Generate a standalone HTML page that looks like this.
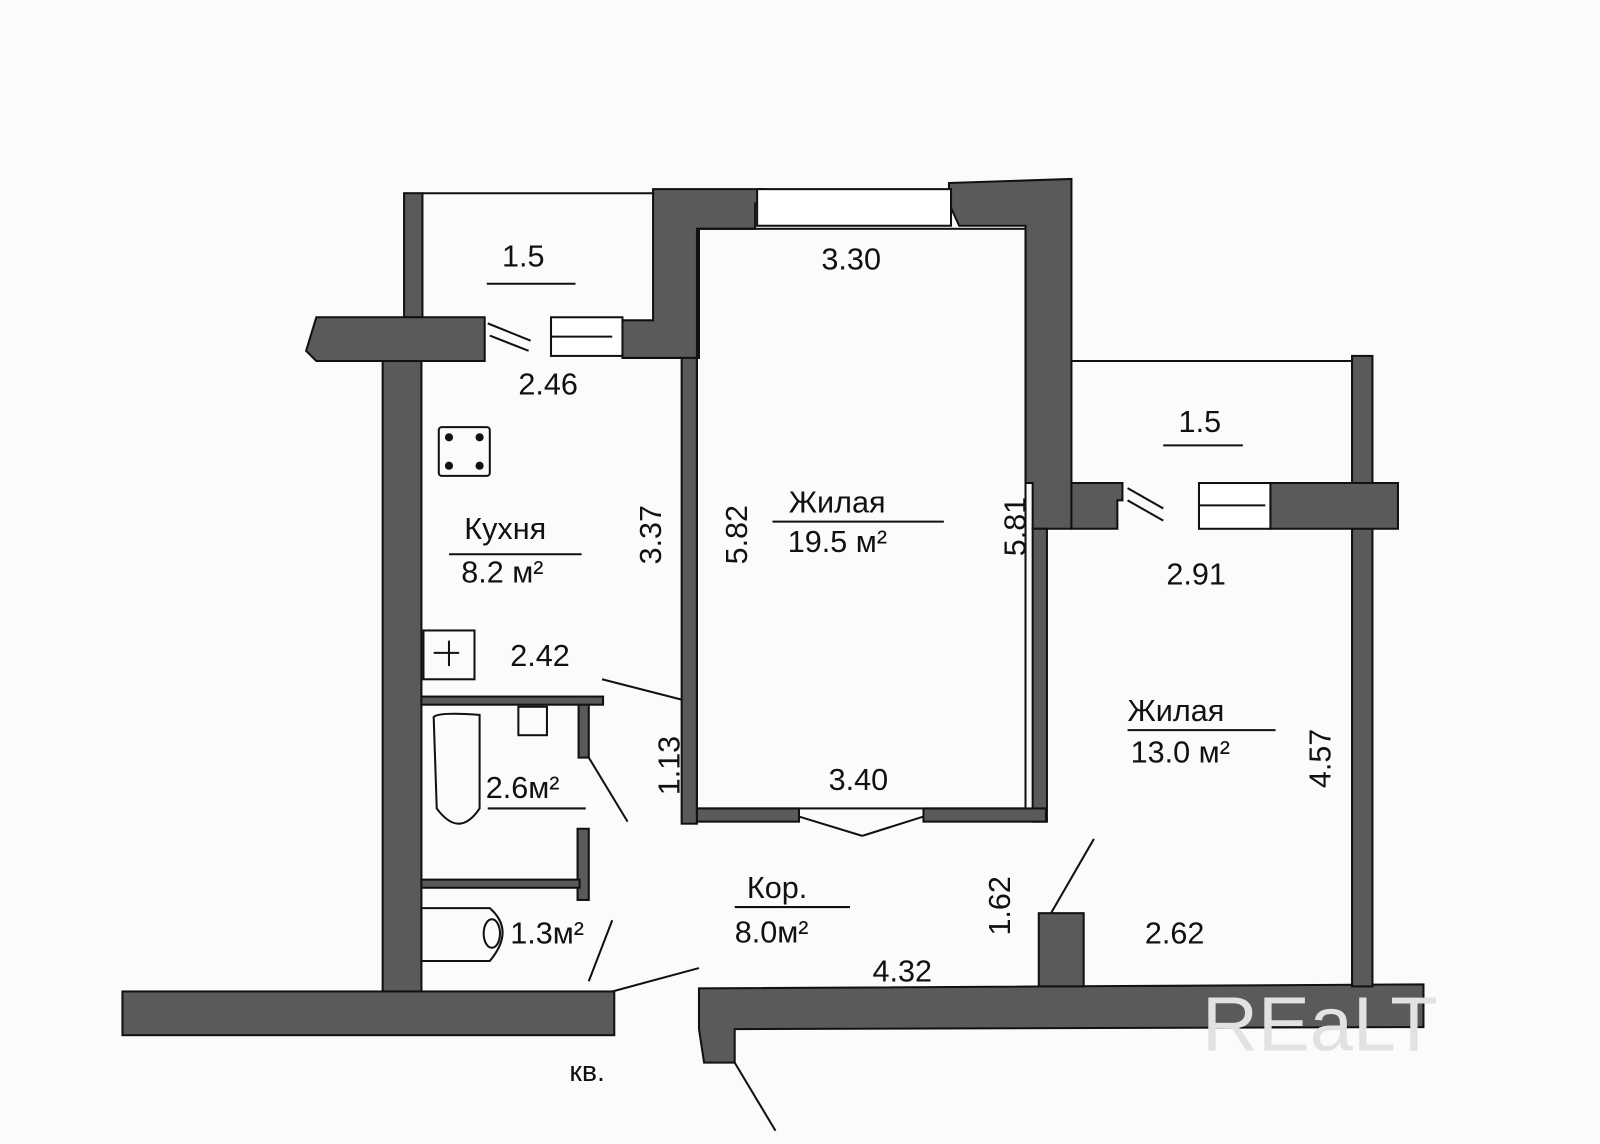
<!DOCTYPE html>
<html><head><meta charset="utf-8"><style>
html,body{margin:0;padding:0;background:#fbfbfb;}
svg{display:block;}
text{font-family:"Liberation Sans",sans-serif;fill:#111;}
</style></head><body>
<svg width="1600" height="1144" viewBox="0 0 1568 1125" preserveAspectRatio="none" xmlns="http://www.w3.org/2000/svg">
<rect width="1568" height="1125" fill="#fbfbfb"/>
<g fill="#5a5a5a" stroke="#111" stroke-width="2">
<rect x="396" y="190" width="18" height="122"/>
<polygon points="640,186 750,186 750,200 740,200 740,225 685,225 685,352 610,352 610,315 640,315"/>
<polygon points="930,180 1050,176 1050,520 1012,520 1012,475 1005,475 1005,222 940,222 930,200"/>
<polygon points="1050,475 1100,475 1100,492 1095,492 1095,520 1050,520"/>
<polygon points="310,312 475,312 475,355 310,355 300,345"/>
<rect x="375" y="355" width="38" height="620"/>
<rect x="120" y="975" width="482" height="43"/>
<polygon points="685,972 1395,968 1395,1010 720,1012 720,1045 690,1045 685,1012"/>
<rect x="1325" y="350" width="20" height="620"/>
<polygon points="1245,475 1370,475 1370,520 1245,520"/>
<rect x="1018" y="898" width="44" height="72"/>
<rect x="413" y="685" width="178" height="8"/>
<rect x="567" y="693" width="10" height="52"/>
<rect x="566" y="815" width="11" height="70"/>
<rect x="413" y="865" width="155" height="8"/>
<rect x="668" y="352" width="15" height="458"/>
<rect x="1012" y="520" width="14" height="288"/>
<rect x="683" y="795" width="100" height="13"/>
<rect x="905" y="795" width="120" height="13"/>
</g>
<g fill="none" stroke="#111" stroke-width="2">
<line x1="414" y1="190" x2="640" y2="190"/>
<rect x="742" y="186" width="190" height="36" fill="#fff"/>
<line x1="1050" y1="355" x2="1325" y2="355"/>
<rect x="683" y="225" width="322" height="570"/>
<rect x="540" y="312" width="70" height="38" fill="#fff"/>
<line x1="540" y1="331" x2="600" y2="331"/>
<rect x="1175" y="475" width="70" height="45" fill="#fff"/>
<line x1="1175" y1="497" x2="1240" y2="497"/>
<line x1="478" y1="318" x2="520" y2="335"/>
<line x1="480" y1="330" x2="518" y2="345"/>
<line x1="1105" y1="480" x2="1140" y2="500"/>
<line x1="1105" y1="492" x2="1140" y2="512"/>
<line x1="783" y1="803" x2="845" y2="822"/>
<line x1="905" y1="803" x2="845" y2="822"/>
<line x1="577" y1="745" x2="615" y2="808"/>
<line x1="1030" y1="898" x2="1072" y2="825"/>
<line x1="720" y1="1045" x2="760" y2="1112"/>
<line x1="590" y1="668" x2="668" y2="688"/>
<line x1="577" y1="965" x2="600" y2="905"/>
<line x1="600" y1="975" x2="685" y2="952"/>
<line x1="1140" y1="438" x2="1218" y2="438"/>
<line x1="477" y1="279" x2="564" y2="279"/>
<line x1="440" y1="545" x2="570" y2="545"/>
<line x1="757" y1="513" x2="925" y2="513"/>
<line x1="1105" y1="718" x2="1250" y2="718"/>
<line x1="720" y1="892" x2="833" y2="892"/>
<line x1="478" y1="795" x2="574" y2="795"/>
<rect x="430" y="420" width="50" height="48" rx="3"/>
<rect x="415" y="620" width="50" height="48"/>
<line x1="440" y1="630" x2="440" y2="655"/><line x1="425" y1="642" x2="450" y2="642"/>
<path d="M425,705 Q430,700 470,703 L470,795 Q450,825 428,795 Z"/>
<rect x="508" y="695" width="28" height="28"/>
<path d="M413,893 L480,893 Q505,915 480,945 L413,945 Z"/>
<ellipse cx="482" cy="918" rx="8" ry="14"/>
</g>
<g fill="#111">
<circle cx="440" cy="430" r="4"/><circle cx="470" cy="430" r="4"/>
<circle cx="440" cy="458" r="4"/><circle cx="470" cy="458" r="4"/>
</g>
<g font-size="30">
<text x="492" y="262">1.5</text>
<text x="508" y="388">2.46</text>
<text x="805" y="265">3.30</text>
<text x="1155" y="425">1.5</text>
<text x="1143" y="575">2.91</text>
<text x="455" y="530">Кухня</text>
<text x="452" y="573">8.2 м²</text>
<text x="773" y="504">Жилая</text>
<text x="772" y="543">19.5 м²</text>
<text x="500" y="655">2.42</text>
<text x="476" y="785">2.6м²</text>
<text x="500" y="928">1.3м²</text>
<text x="812" y="777">3.40</text>
<text x="732" y="883">Кор.</text>
<text x="720" y="927">8.0м²</text>
<text x="855" y="965">4.32</text>
<text x="1105" y="709">Жилая</text>
<text x="1108" y="750">13.0 м²</text>
<text x="1122" y="928">2.62</text>
<text x="558" y="1063" font-size="28">кв.</text>
<text transform="translate(648,555) rotate(-90)">3.37</text>
<text transform="translate(732,555) rotate(-90)">5.82</text>
<text transform="translate(1005,547) rotate(-90)">5.81</text>
<text transform="translate(666,782) rotate(-90)">1.13</text>
<text transform="translate(990,920) rotate(-90)">1.62</text>
<text transform="translate(1304,775) rotate(-90)">4.57</text>
<text x="1178" y="1033" font-size="76" style="fill:#e2e2e2">REaLT</text>
</g>
</svg>
</body></html>
